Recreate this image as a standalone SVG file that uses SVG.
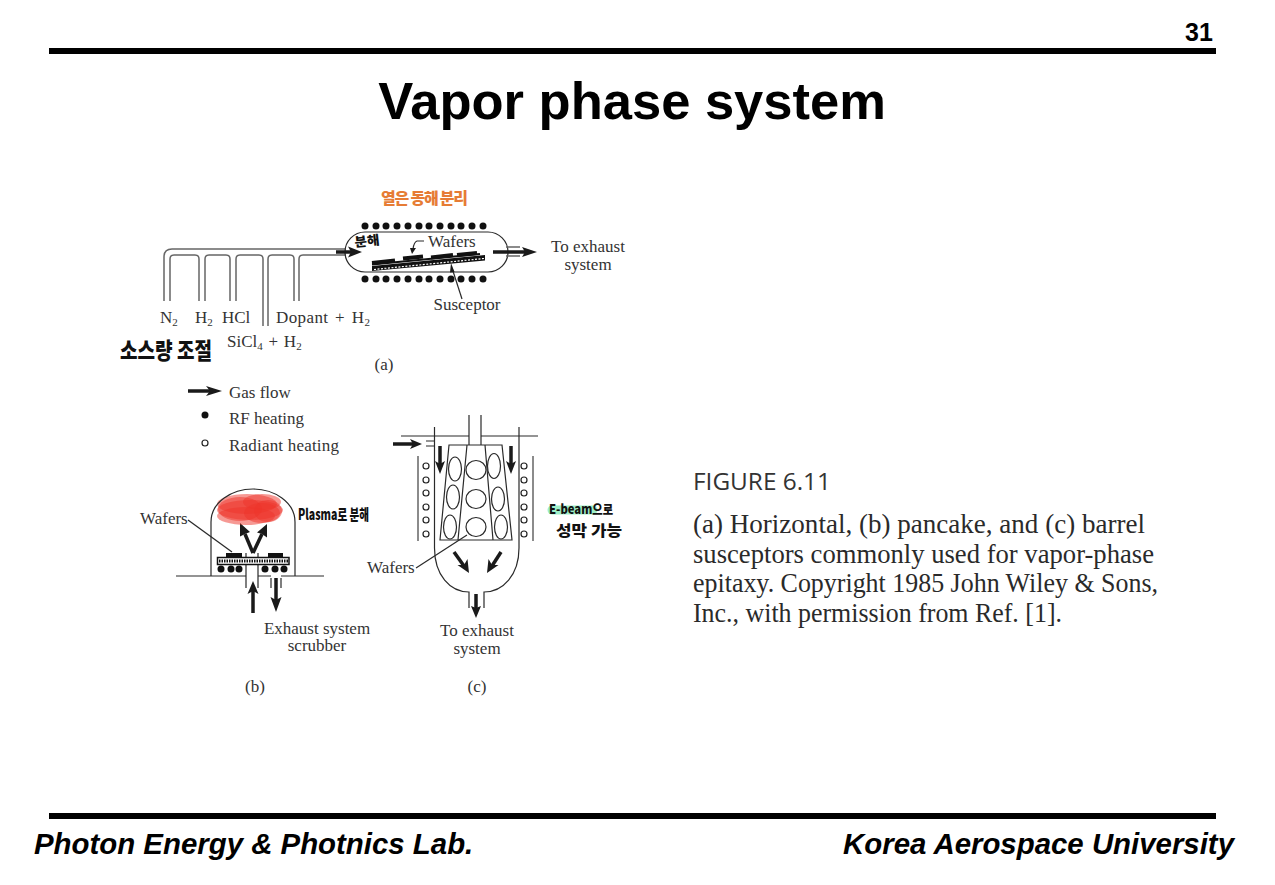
<svg xmlns="http://www.w3.org/2000/svg" width="1275" height="885" viewBox="0 0 1275 885">
<style>
.s{font-family:"Liberation Serif",serif;font-size:17px;fill:#333}
.m{text-anchor:middle}
.b{font-family:"Liberation Sans",sans-serif;font-weight:700;fill:#000}
.cap{font-family:"Liberation Serif",serif;font-size:26.4px;fill:#2a2a2a}
.l{fill:none;stroke:#2a2a2a;stroke-width:1.2}
.p{fill:none;stroke:#666;stroke-width:1.5}
.a{fill:none;stroke:#1a1a1a;stroke-width:3.5}
.h{fill:#1a1a1a}
.d{fill:#111}
.o{fill:#fff;stroke:#222;stroke-width:1.2}
.hw{font-family:"Noto Sans CJK KR",sans-serif;font-weight:900;fill:#111}
.r{fill:#ee3329;opacity:.5}
</style>
<rect width="1275" height="885" fill="#fff"/>
<g id="header">
<text class="b" x="1199" y="41" font-size="25" text-anchor="middle">31</text>
<rect x="49" y="48" width="1167" height="6" fill="#000"/>
<text class="b" x="632" y="119" font-size="52.5" text-anchor="middle">Vapor phase system</text>
</g>
<g id="footer">
<rect x="49" y="813" width="1167" height="6" fill="#000"/>
<text class="b" x="34" y="854" font-size="29.400" font-style="italic">Photon Energy &amp; Photnics Lab.</text>
<text class="b" x="1234" y="854" font-size="29.400" font-style="italic" text-anchor="end">Korea Aerospace University</text>
</g>
<g id="pipes-a">
<path class="p" d="M164 301V257Q164 249 172 249H346"/>
<path class="p" d="M170 301V259Q170 255 174 255H195Q199 255 199 259V301M205 301V259Q205 255 209 255H226Q230 255 230 259V301M236 301V259Q236 255 240 255H259Q263 255 263 259V326M268 326V259Q268 255 272 255H290Q294 255 294 259V301M299 301V259Q299 255 303 255H346"/>
</g>
<g id="reactor-a">
<rect class="l" x="345" y="232" width="163" height="40" rx="20"/>
<path class="p" d="M506 247H520M506 256H520"/>
<path d="M372 266L485 255V260.500L372 271Z" class="d"/>
<path d="M374 269.500L484 258.500" stroke="#fff" stroke-width="1.200" stroke-dasharray="2 1.500" fill="none"/>
<path d="M372 263L395 260.500M403 258.500L423 256.500M431 257.500L453 255M457 255L477 253" stroke="#111" stroke-width="4" fill="none"/>
<path d="M372 264.500L480 254" stroke="#111" stroke-width="2" fill="none"/>
<g class="d">
<circle cx="365" cy="226" r="3.500"/><circle cx="376" cy="226" r="3.500"/><circle cx="386" cy="226" r="3.500"/><circle cx="397" cy="226" r="3.500"/><circle cx="408" cy="226" r="3.500"/><circle cx="419" cy="226" r="3.500"/><circle cx="429" cy="226" r="3.500"/><circle cx="440" cy="226" r="3.500"/><circle cx="451" cy="226" r="3.500"/><circle cx="461" cy="226" r="3.500"/><circle cx="472" cy="226" r="3.500"/><circle cx="483" cy="226" r="3.500"/>
<circle cx="365" cy="279" r="3.500"/><circle cx="376" cy="279" r="3.500"/><circle cx="386" cy="279" r="3.500"/><circle cx="397" cy="279" r="3.500"/><circle cx="408" cy="279" r="3.500"/><circle cx="419" cy="279" r="3.500"/><circle cx="429" cy="279" r="3.500"/><circle cx="440" cy="279" r="3.500"/><circle cx="451" cy="279" r="3.500"/><circle cx="461" cy="279" r="3.500"/><circle cx="472" cy="279" r="3.500"/><circle cx="483" cy="279" r="3.500"/>
</g>
<text class="s" x="428" y="247">Wafers</text>
<path class="l" d="M424 241H417Q414 242 413 249"/><path class="h" d="M410 248L416 248L412 254Z"/>
<path class="l" d="M462 299L452 268"/><path class="h" d="M451 263L454.500 272L450 272.500Z"/>
<text class="s m" x="467" y="310">Susceptor</text>
<text class="s m" x="588" y="252">To exhaust</text>
<text class="s m" x="588" y="270">system</text>
</g>
<g id="connectors">
<path class="a" d="M336 252H352"/><path class="h" d="M348 246.500L362 252L348 257.500L351 252Z"/>
<path class="a" d="M493 252H525"/><path class="h" d="M522 247L537 252L522 257L525 252Z"/>
<path class="a" d="M188 391H212" stroke-width="3"/><path class="h" d="M206 386L222 391L206 396L210 391Z"/>
<path class="a" d="M253 613V590"/><path class="h" d="M247.500 594L253 581L258.500 594L253 591Z"/>
<path class="a" d="M276 578V602"/><path class="h" d="M270.500 597L276 612L281.500 597L276 600Z"/>
<path class="a" d="M253 553L245 534"/><path class="h" d="M250 532L240 523L240 536.500L245 534Z"/>
<path class="a" d="M253 553L262 534"/><path class="h" d="M267 537.500L267 524L257 532.500L262 534Z"/>
<path class="a" d="M393 444H414"/><path class="h" d="M410 439L422 444L410 449L413 444Z"/>
<path class="a" d="M440 446V464"/><path class="h" d="M435 461L440 474L445 461L440 464Z"/>
<path class="a" d="M511 446V464"/><path class="h" d="M506 461L511 474L516 461L511 464Z"/>
<path class="a" d="M454 552L464 566"/><path class="h" d="M457.500 565L469 573L467.500 559L464 565Z"/>
<path class="a" d="M501 552L492 566"/><path class="h" d="M488.500 559L487 573L498.500 565L492 565Z"/>
<path class="a" d="M476 594V608"/><path class="h" d="M471 606L476 618L481 606L476 608Z"/>
</g>
<g id="labels-a">
<text class="s" x="160" y="323">N<tspan font-size="11" dy="3">2</tspan></text>
<text class="s" x="195" y="323">H<tspan font-size="11" dy="3">2</tspan></text>
<text class="s" x="222" y="323">HCl</text>
<text class="s" x="276" y="323" word-spacing="2" letter-spacing=".4">Dopant + H<tspan font-size="11" dy="3">2</tspan></text>
<text class="s" x="227" y="347" word-spacing="1.500">SiCl<tspan font-size="11" dy="3">4</tspan><tspan dy="-3"> + H</tspan><tspan font-size="11" dy="3">2</tspan></text>
<text class="s m" x="384" y="370">(a)</text>
</g>
<g id="legend">
<text class="s" x="229" y="398">Gas flow</text>
<circle class="d" cx="205" cy="415" r="3.500"/>
<text class="s" x="229" y="424">RF heating</text>
<circle class="o" cx="205" cy="443" r="3"/>
<text class="s" x="229" y="451" letter-spacing=".2">Radiant heating</text>
</g>
<g id="reactor-b">
<ellipse class="r" cx="247" cy="504" rx="30" ry="10"/><ellipse class="r" cx="250" cy="510" rx="33" ry="10"/><ellipse class="r" cx="246" cy="516" rx="29" ry="9"/><ellipse class="r" cx="262" cy="502" rx="19" ry="8"/><ellipse class="r" cx="268" cy="511" rx="14" ry="11"/><ellipse class="r" cx="240" cy="509" rx="22" ry="12"/><ellipse class="r" cx="262" cy="513" rx="18" ry="10"/>
<path class="l" d="M211 576V522C211 502 232 489 253 489C274 489 295 502 295 522V576M176 576H246M258 576H271M281 576H324"/>
<path class="l" d="M246 553V588M258 553V588M271 578V588M281 578V588"/>
<rect x="217.500" y="557.500" width="71.500" height="7" fill="#fff" stroke="#111" stroke-width="1.500"/>
<path d="M219 561H288" stroke="#111" stroke-width="3" stroke-dasharray="1.500 1" fill="none"/>
<rect x="226" y="553" width="16" height="4" class="d"/><rect x="268" y="553" width="15" height="4" class="d"/>
<circle class="d" cx="221" cy="569" r="3.500"/><circle class="d" cx="231" cy="569" r="3.500"/><circle class="d" cx="239" cy="569" r="3.500"/><circle class="d" cx="265" cy="569" r="3.500"/><circle class="d" cx="275" cy="569" r="3.500"/><circle class="d" cx="284" cy="569" r="3.500"/>
<path class="l" d="M188 520L232 552" stroke-width=".9"/>
<text class="s" x="140" y="524">Wafers</text>
<text class="s m" x="317" y="634">Exhaust system</text>
<text class="s m" x="317" y="651">scrubber</text>
<text class="s m" x="255" y="692">(b)</text>
</g>
<g id="reactor-c">
<path class="l" d="M401 436H469M481 436H538M469 415V445M481 415V445"/>
<path class="l" d="M434.500 427V548C434.500 575 450 592 469 592V608M484 608V592C503 592 519 575 519 548V427"/>
<path class="l" d="M426 441H434M426 446H434"/>
<path class="l" d="M449 445H502L512 540H440ZM467 445L458 540M485 445L493 540"/>
<path class="p" d="M418 456V541M533 456V541"/>
<g class="l">
<ellipse cx="455" cy="469" rx="6.500" ry="12"/><ellipse cx="476" cy="470" rx="10" ry="9.500"/><ellipse cx="494" cy="466" rx="6.500" ry="12.500"/>
<ellipse cx="453" cy="497" rx="6.500" ry="12"/><ellipse cx="476" cy="499" rx="10" ry="9.500"/><ellipse cx="498" cy="499" rx="6.500" ry="12"/>
<ellipse cx="450" cy="527" rx="6.500" ry="12"/><ellipse cx="476" cy="527" rx="10" ry="9.500"/><ellipse cx="501" cy="527" rx="6.500" ry="12"/>
</g>
<g class="o">
<circle cx="426" cy="466" r="3"/><circle cx="426" cy="480" r="3"/><circle cx="426" cy="493" r="3"/><circle cx="426" cy="507" r="3"/><circle cx="426" cy="520" r="3"/><circle cx="426" cy="534" r="3"/>
<circle cx="524" cy="466" r="3"/><circle cx="524" cy="480" r="3"/><circle cx="524" cy="493" r="3"/><circle cx="524" cy="507" r="3"/><circle cx="524" cy="520" r="3"/><circle cx="524" cy="534" r="3"/>
</g>
<path class="l" d="M416 568L467 535" stroke-width=".9"/>
<text class="s" x="367" y="573">Wafers</text>
<text class="s m" x="477" y="636">To exhaust</text>
<text class="s m" x="477" y="654">system</text>
<text class="s m" x="477" y="692">(c)</text>
</g>
<g id="figure-caption">
<text x="693" y="490" font-family="Open Sans, sans-serif" font-size="23" fill="#333" textLength="138" lengthAdjust="spacingAndGlyphs">FIGURE 6.11</text>
<text class="cap" x="693" y="533" textLength="452" lengthAdjust="spacingAndGlyphs">(a) Horizontal, (b) pancake, and (c) barrel</text>
<text class="cap" x="693" y="563" textLength="461" lengthAdjust="spacingAndGlyphs">susceptors commonly used for vapor-phase</text>
<text class="cap" x="693" y="592" textLength="465" lengthAdjust="spacingAndGlyphs">epitaxy. Copyright 1985 John Wiley &amp; Sons,</text>
<text class="cap" x="693" y="622" textLength="369" lengthAdjust="spacingAndGlyphs">Inc., with permission from Ref. [1].</text>
</g>
<g id="annotations">
<text class="hw" x="381" y="204" font-size="16" style="fill:#e67c35" textLength="87" lengthAdjust="spacing">열은 동해 분리</text>
<text class="hw" x="355" y="247" font-size="13" transform="rotate(-6 355 247)" textLength="25" lengthAdjust="spacingAndGlyphs">분해</text>
<text class="hw" transform="translate(120 359) scale(1 1.3)" font-size="17.500" textLength="92" lengthAdjust="spacingAndGlyphs">소스량 조절</text>
<text class="hw" x="298" y="520" font-size="15" textLength="71" lengthAdjust="spacingAndGlyphs">Plasma로 분해</text>
<path d="M552 510H593" stroke="#9ff0c8" stroke-width="9" stroke-linecap="round" fill="none"/>
<text class="hw" x="549" y="514" font-size="13" textLength="64" lengthAdjust="spacingAndGlyphs">E-beam으로</text>
<text class="hw" x="556" y="536" font-size="15" textLength="66" lengthAdjust="spacingAndGlyphs">성막 가능</text>
</g>
</svg>
